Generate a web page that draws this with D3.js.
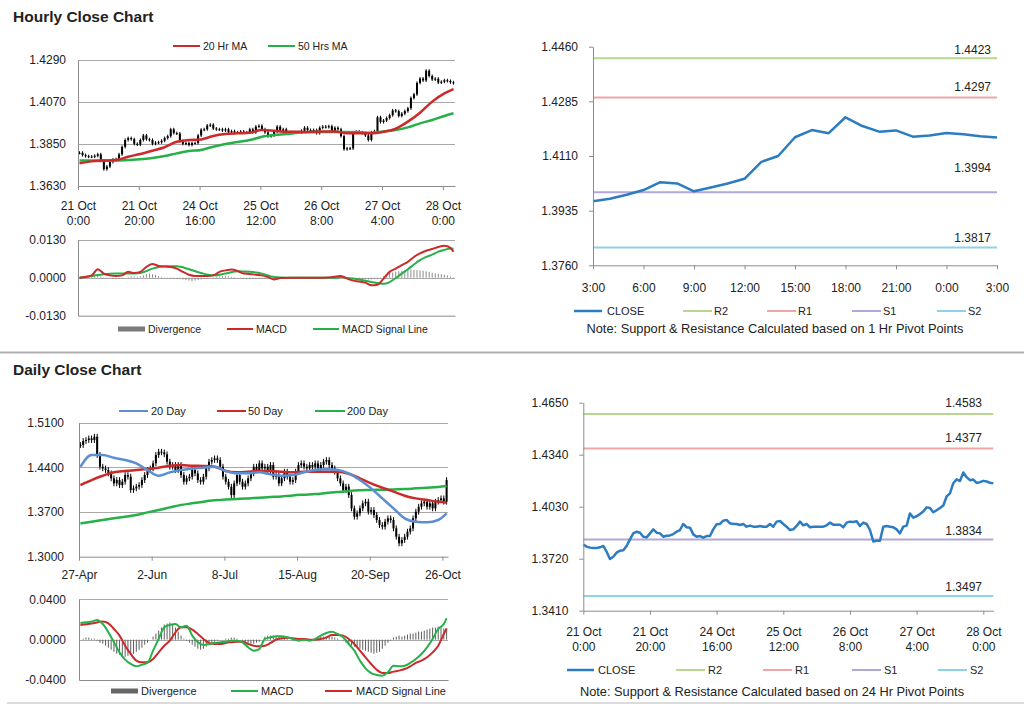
<!DOCTYPE html>
<html><head><meta charset="utf-8">
<script src="https://cdn.jsdelivr.net/npm/d3@7"></script>
<style>
body{margin:0;background:#fff;}
svg{display:block;}
</style></head><body>
<svg id="c" width="1024" height="706"></svg>
<script>
// ===================== DATA =====================
// Hourly closes, 21 Oct 0:00 .. 28 Oct 3:00 (124 bars)
const hourlyClose = [
1.3804,1.3792,1.3786,1.3784,1.3784,1.3788,1.3796,1.3762,1.3718,1.3732,
1.3756,1.3768,1.3770,1.3796,1.3835,1.3871,1.3881,1.3875,1.3851,1.3847,
1.3871,1.3895,1.3875,1.3871,1.3851,1.3857,1.3859,1.3867,1.3881,1.3891,
1.3927,1.3907,1.3905,1.3865,1.3851,1.3855,1.3845,1.3855,1.3855,1.3895,
1.3925,1.3927,1.3947,1.3951,1.3931,1.3927,1.3927,1.3921,1.3927,1.3911,
1.3917,1.3911,1.3911,1.3915,1.3911,1.3911,1.3927,1.3911,1.3941,1.3945,
1.3927,1.3911,1.3891,1.3895,1.3915,1.3941,1.3919,1.3927,1.3907,1.3911,
1.3911,1.3911,1.3911,1.3919,1.3935,1.3923,1.3923,1.3923,1.3907,1.3935,
1.3941,1.3939,1.3943,1.3915,1.3935,1.3927,1.3891,1.3823,1.3827,1.3827,
1.3911,1.3915,1.3911,1.3907,1.3895,1.3871,1.3911,1.3917,1.3990,
1.3965,1.3973,1.3986,1.4001,1.4026,1.4022,1.3997,1.4009,1.4022,1.4037,
1.4091,1.4110,1.4170,1.4193,1.4183,1.4234,1.4206,1.4188,1.4192,1.4172,
1.4176,1.4184,1.4180,1.4173,1.4169];
const hourlyTickIdx = [0,20,40,60,80,100,120];
const hourlyTickDates = ["21 Oct","21 Oct","24 Oct","25 Oct","26 Oct","27 Oct","28 Oct"];
const hourlyTickTimes = ["0:00","20:00","16:00","12:00","8:00","4:00","0:00"];
const hourlyYTicks = [1.3630,1.3850,1.4070,1.4290];

const hourlyMAIdx = [0,4,8,12,16,20,24,28,32,36,40,44,48,52,56,60,64,68,72,76,80,84,88,92,96,100,104,108,112,116,120,123];
const ma20h = [1.3749,1.3759,1.3763,1.3766,1.3783,1.3798,1.3815,1.3833,1.3862,1.3871,1.3874,1.3892,1.3902,1.3906,1.3909,1.3923,1.3920,1.3914,1.3914,1.3913,1.3916,1.3916,1.3906,1.3906,1.3906,1.3914,1.3930,1.3967,1.4014,1.4072,1.4115,1.4138];
const ma50h = [1.3763,1.3763,1.3763,1.3763,1.3766,1.3770,1.3777,1.3787,1.3801,1.3813,1.3819,1.3836,1.3850,1.3860,1.3871,1.3888,1.3897,1.3902,1.3909,1.3913,1.3913,1.3913,1.3913,1.3911,1.3909,1.3916,1.3923,1.3937,1.3958,1.3976,1.3997,1.4011];

const macdHIdx = [0,4,6,8,10,12,14,16,18,20,22,24,26,28,30,32,34,36,38,40,42,44,46,48,50,52,54,56,58,60,62,64,66,70,74,78,82,86,88,90,92,94,96,98,100,102,104,106,108,110,112,114,116,118,120,122,123];
const macdH = [0,0.0008,0.0029,0.0014,0.0008,0.0006,0.0008,0.0020,0.0016,0.0020,
0.0037,0.0047,0.0040,0.0038,0.0037,0.0031,0.0020,0.0010,0.0006,0.0006,
0.0006,0.0008,0.0020,0.0025,0.0028,0.0023,0.0014,0.0013,0.0010,0.0008,
0.0002,-0.0006,-0.0001,0,0,0,0.0001,0.0006,-0.0003,-0.0010,
-0.0013,-0.0017,-0.0026,-0.0024,-0.0003,0.0020,0.0031,0.0043,0.0054,0.0071,
0.0083,0.0092,0.0098,0.0105,0.0109,0.0102,0.0089];
const signalHIdx = [0,4,8,12,16,20,24,28,32,36,40,44,48,52,56,60,64,68,72,76,80,84,86,88,92,96,100,102,104,106,108,110,112,114,116,118,120,122,123];
const signalH = [0,0.0006,0.0012,0.0014,0.0014,0.0016,0.0031,0.0039,0.0039,0.0029,
0.0016,0.0008,0.0014,0.0022,0.0020,0.0014,0.0002,0,0,0,
0,0,0.0002,-0.0001,-0.0006,-0.0015,-0.0021,-0.0015,-0.0001,0.0014,
0.0029,0.0045,0.0060,0.0071,0.0079,0.0089,0.0095,0.0100,0.0099];
const divH = [0,0.0001,0.0002,0.0003,
0.0004,0.0005,0.0006,0.0004,0.0002,0.0001, -0.0002,-0.0004,-0.0005,-0.0004,-0.0002,0,
0.0003,0.0005,0.0004,0.0003,0.0005,0.0008, 0.0012,0.0014,0.0012,0.0010,0.0006,0.0003,
0.0001,-0.0001,-0.0002,-0.0003,-0.0003,-0.0004, -0.0006,-0.0008,-0.0010,-0.0012,-0.0010,-0.0008,
-0.0006,-0.0004,-0.0002,0,0.0002,0.0004, 0.0005,0.0006,0.0006,0.0005,0.0003,0.0002,
0,-0.0002,-0.0004,-0.0005,-0.0005,-0.0004, -0.0004,-0.0004,-0.0003,-0.0003,-0.0003,-0.0002,
-0.0001,-0.0001,0,0,0,0, 0,0,0,0,0,0, 0,0,0,0,0,0.0001,
0.0001,0.0002,0.0002,0.0001,0,-0.0001, -0.0002,-0.0003,-0.0003,-0.0004,-0.0004,-0.0005,
-0.0005,-0.0006,-0.0006,-0.0005,-0.0004,-0.0002, 0.0005,0.0010,0.0015,0.0018,0.0020,0.0022,
0.0024,0.0026,0.0028,0.0028,0.0027,0.0026, 0.0025,0.0024,0.0022,0.0020,0.0017,0.0015,
0.0013,0.0012,0.0010,0.0008,0.0004,-0.0002];
const macdHYTicks = [-0.0130,0,0.0130];

// 1-hour pivot panel (27 Oct 3:00 .. 28 Oct 3:00)
const pivot1hClose = [1.3965,1.3973,1.3986,1.4001,1.4026,1.4022,1.3997,1.4009,1.4022,1.4037,
1.4091,1.4110,1.4170,1.4193,1.4183,1.4234,1.4206,1.4188,1.4192,1.4172,
1.4176,1.4184,1.4180,1.4173,1.4169];
const pivot1hTickIdx = [0,3,6,9,12,15,18,21,24];
const pivot1hTickLabels = ["3:00","6:00","9:00","12:00","15:00","18:00","21:00","0:00","3:00"];
const pivot1hYTicks = [1.3760,1.3935,1.4110,1.4285,1.4460];
const levelNames = ["R2","R1","S1","S2"];
const levels1h = [1.4423,1.4297,1.3994,1.3817];
const levels24h = [1.4583,1.4377,1.3834,1.3497];
const pivot24hYTicks = [1.3410,1.3720,1.4030,1.4340,1.4650];

// Daily closes 27-Apr .. 27-Oct (132 bars)
const dailyClose = [
1.4750,1.4813,1.4828,1.4854,1.4828,1.4880,1.4593,1.4410,1.4384,1.4358,
1.4306,1.4228,1.4149,1.4201,1.4123,1.4175,1.4280,1.4254,1.4045,1.4071,
1.4097,1.4123,1.4201,1.4280,1.4358,1.4384,1.4463,1.4593,1.4645,1.4635,
1.4604,1.4489,1.4410,1.4437,1.4358,1.4437,1.4280,1.4175,1.4228,1.4254,
1.4358,1.4306,1.4201,1.4175,1.4254,1.4384,1.4489,1.4515,1.4541,1.4515,
1.4410,1.4254,1.4175,1.4097,1.3966,1.4149,1.4280,1.4175,1.4097,1.4149,
1.4228,1.4306,1.4410,1.4358,1.4463,1.4384,1.4410,1.4332,1.4437,1.4254,
1.4280,1.4149,1.4228,1.4332,1.4254,1.4175,1.4201,1.4332,1.4437,1.4463,
1.4410,1.4384,1.4437,1.4410,1.4463,1.4384,1.4437,1.4489,1.4515,1.4437,
1.4384,1.4332,1.4228,1.4149,1.4045,1.4097,1.3966,1.3757,1.3627,1.3679,
1.3757,1.3836,1.3862,1.3705,1.3731,1.3653,1.3575,1.3496,1.3470,1.3549,
1.3601,1.3575,1.3444,1.3313,1.3209,1.3261,1.3313,1.3392,1.3444,1.3601,
1.3705,1.3783,1.3836,1.3862,1.3783,1.3836,1.3757,1.3862,1.3888,1.3914,
1.3862,1.4201];
const dailyTickIdx = [0,26,52,78,104,130];
const dailyTickLabels = ["27-Apr","2-Jun","8-Jul","15-Aug","20-Sep","26-Oct"];
const dailyYTicks = [1.3000,1.3700,1.4400,1.5100];

const dailyMAIdx = [0,4,8,12,16,20,24,28,32,36,40,44,48,52,56,60,64,68,72,76,80,84,88,92,96,100,104,108,112,116,120,124,128,131];
const ma20d = [1.4410,1.4593,1.4593,1.4551,1.4515,1.4463,1.4358,1.4269,1.4322,1.4358,1.4384,1.4395,1.4410,1.4343,1.4306,1.4306,1.4322,1.4290,1.4269,1.4280,1.4322,1.4358,1.4369,1.4358,1.4306,1.4201,1.4071,1.3914,1.3757,1.3601,1.3549,1.3538,1.3575,1.3679];
const ma50d = [1.4123,1.4201,1.4269,1.4322,1.4343,1.4358,1.4374,1.4395,1.4426,1.4437,1.4426,1.4421,1.4410,1.4343,1.4322,1.4332,1.4343,1.4343,1.4332,1.4322,1.4332,1.4332,1.4332,1.4332,1.4301,1.4228,1.4149,1.4081,1.4019,1.3956,1.3914,1.3888,1.3862,1.3851];
const ma200d = [1.3522,1.3549,1.3575,1.3601,1.3627,1.3653,1.3695,1.3731,1.3773,1.3810,1.3836,1.3862,1.3883,1.3898,1.3904,1.3914,1.3925,1.3935,1.3945,1.3961,1.3972,1.3982,1.3998,1.4013,1.4029,1.4040,1.4045,1.4050,1.4055,1.4060,1.4071,1.4081,1.4092,1.4107];

const macdDIdx = [0,4,6,8,12,14,16,18,20,22,24,26,28,30,32,34,36,38,40,42,44,46,48,50,52,54,56,58,60,62,64,66,68,70,72,74,76,78,80,82,84,86,88,90,92,94,96,98,100,102,104,106,108,110,112,114,116,118,120,122,124,126,128,130,131];
const macdD = [0.0165,0.0179,0.0195,0.0155,-0.0026,-0.0126,-0.0198,-0.0241,-0.0264,-0.0248,
-0.0231,-0.0109,0.0007,0.0122,0.0145,0.0155,0.0122,0.0139,0.0040,-0.0026,
-0.0053,-0.0043,-0.0033,-0.0026,-0.0020,-0.0010,-0.0010,-0.0026,-0.0076,-0.0109,
-0.0093,0.0007,0.0023,0.0033,0.0033,0.0023,0.0007,-0.0010,0,-0.0010,
0.0007,0.0040,0.0066,0.0079,0.0056,0.0023,-0.0043,-0.0109,-0.0208,-0.0284,
-0.0331,-0.0350,-0.0357,-0.0324,-0.0258,-0.0264,-0.0258,-0.0231,-0.0192,-0.0142,
-0.0076,0.0007,0.0106,0.0155,0.0212];
const signalDIdx = [0,4,8,10,12,14,16,18,20,22,24,26,28,30,32,34,36,38,40,42,44,46,48,50,52,54,56,58,60,62,64,66,68,70,72,74,76,78,80,82,84,86,88,90,92,94,96,98,100,102,104,106,108,110,112,114,116,118,120,122,124,126,128,130,131];
const signalD = [0.0145,0.0159,0.0179,0.0162,0.0106,0.0040,-0.0060,-0.0142,-0.0208,-0.0225,
-0.0225,-0.0192,-0.0126,-0.0060,-0.0010,0.0073,0.0122,0.0122,0.0099,0.0056,
0.0007,-0.0033,-0.0043,-0.0043,-0.0033,-0.0026,-0.0020,-0.0020,-0.0043,-0.0060,
-0.0066,-0.0060,-0.0033,0,0.0013,0.0020,0.0013,0.0007,0.0007,0,
0,0.0007,0.0023,0.0046,0.0046,0.0040,0.0007,-0.0043,-0.0109,-0.0175,
-0.0241,-0.0298,-0.0331,-0.0331,-0.0317,-0.0307,-0.0291,-0.0264,-0.0231,-0.0208,
-0.0175,-0.0126,-0.0060,0.0056,0.0112];
const divD = [0,0.001,0.002,0.002,0.001,0.001,
-0.001,-0.003,-0.004,-0.006,-0.008,-0.010, -0.012,-0.014,-0.015,-0.016,-0.017,-0.016,
-0.015,-0.014,-0.012,-0.010,-0.008,-0.005, -0.003,0,0.003,0.006,0.009,0.012,
0.015,0.016,0.017,0.015,0.012,0.008, 0.004,0.001,-0.001,-0.003,-0.005,-0.007,
-0.009,-0.010,-0.009,-0.007,-0.005,-0.003, -0.002,-0.001,0,0,0.001,0.001,
0.002,0.002,0.001,0,-0.001,-0.002, -0.003,-0.004,-0.004,-0.003,-0.002,0,
0.003,0.004,0.004,0.004,0.003,0.003, 0.002,0.001,0.001,0,-0.001,-0.001,
-0.001,-0.001,0,0,-0.001,0, 0.001,0.002,0.003,0.003,0.003,0.003,
0.003,0.002,0.001,0,-0.001,-0.003, -0.005,-0.006,-0.007,-0.008,-0.009,-0.010,
-0.011,-0.012,-0.013,-0.014,-0.013,-0.012, -0.009,-0.006,-0.003,-0.001,0.002,0.003,
0.004,0.003,0.004,0.005,0.006,0.006, 0.007,0.008,0.008,0.009,0.010,0.011,
0.012,0.012,0.013,0.012,0.011,0.010];
const macdDYTicks = [-0.0400,0,0.0400];

// ===================== DRAWING =====================
const FONT = "'Liberation Sans', Arial, sans-serif";
const AX = "#8c8c8c", GRID = "#a8a8a8", TXT = "#222";
const RED = "#cc2a2a", GREEN = "#27b04a", BLUE_MA = "#5b8fd2", CLOSE_BLUE = "#2b7cc1";
const levelColors = ["#b9d68e","#f0a6a6","#b3a6d8","#8fd2e6"];
const fmt4 = d => (d < 0 ? "-" : "") + Math.abs(d).toFixed(4);

const svg = d3.select("#c").attr("font-family", FONT);

function gridLines(g, x0, x1, y, vals) {
  g.selectAll(null).data(vals).enter().append("line")
    .attr("x1", x0).attr("x2", x1)
    .attr("y1", d => Math.round(y(d)) + 0.5).attr("y2", d => Math.round(y(d)) + 0.5)
    .attr("stroke", GRID).attr("stroke-width", 1);
}
function styleAxis(g, fs) {
  g.attr("font-family", FONT).attr("font-size", fs);
  g.select(".domain").attr("stroke", AX);
  g.selectAll(".tick line").attr("stroke", AX);
  g.selectAll(".tick text").attr("fill", TXT);
}
function twoLine(g, top, bottom) {
  g.selectAll(".tick text").each(function(d, i) {
    const t = d3.select(this).attr("dy", null).text(null);
    t.append("tspan").attr("x", 0).attr("dy", "0.71em").text(top[i]);
    t.append("tspan").attr("x", 0).attr("dy", "1.25em").text(bottom[i]);
  });
}
function legendLine(x1, x2, y, color, w, label, tx, fs) {
  svg.append("line").attr("x1", x1).attr("x2", x2).attr("y1", y).attr("y2", y)
    .attr("stroke", color).attr("stroke-width", w);
  svg.append("text").attr("x", tx).attr("y", y).attr("dy", "0.35em")
    .attr("font-size", fs).attr("fill", TXT).text(label);
}
function legendSwatch(x1, x2, y, color, label, tx, fs) {
  svg.append("rect").attr("x", x1).attr("y", y - 2.5).attr("width", x2 - x1).attr("height", 5).attr("fill", color);
  svg.append("text").attr("x", tx).attr("y", y).attr("dy", "0.35em")
    .attr("font-size", fs).attr("fill", TXT).text(label);
}
function candles(g, closes, cx, y, pad) {
  const data = closes.map((c, i) => ({i, o: i ? closes[i - 1] : c, c}));
  g.selectAll(null).data(data).enter().append("line")
    .attr("x1", d => cx(d.i)).attr("x2", d => cx(d.i))
    .attr("y1", d => y(Math.max(d.o, d.c) + pad)).attr("y2", d => y(Math.min(d.o, d.c) - pad))
    .attr("stroke", "#000").attr("stroke-width", 1);
  g.selectAll(null).data(data).enter().append("rect")
    .attr("x", d => cx(d.i) - 1).attr("width", 2)
    .attr("y", d => y(Math.max(d.o, d.c)))
    .attr("height", d => Math.max(1, y(Math.min(d.o, d.c)) - y(Math.max(d.o, d.c))))
    .attr("fill", "#000");
}
function seriesLine(g, idx, vals, cx, y, color, w) {
  g.append("path").datum(vals).attr("fill", "none").attr("stroke", color)
    .attr("stroke-width", w).attr("stroke-linejoin", "round")
    .attr("d", d3.line().x((d, k) => cx(idx[k])).y(d => y(d)).curve(d3.curveMonotoneX));
}
function divBars(g, vals, cx, y, color) {
  g.selectAll(null).data(vals).enter().append("rect")
    .attr("x", (d, i) => cx(i) - 0.5).attr("width", 1)
    .attr("y", d => Math.min(y(d), y(0))).attr("height", d => Math.abs(y(d) - y(0)))
    .attr("fill", color);
}

// ---------- Titles & separators ----------
svg.append("text").attr("x", 13).attr("y", 22).attr("font-weight", "bold").attr("font-size", 15.5)
  .attr("fill", "#222").text("Hourly Close Chart");
svg.append("text").attr("x", 13).attr("y", 375).attr("font-weight", "bold").attr("font-size", 15.5)
  .attr("fill", "#222").text("Daily Close Chart");
svg.append("line").attr("x1", 0).attr("x2", 1024).attr("y1", 352.5).attr("y2", 352.5)
  .attr("stroke", "#b0b0b0").attr("stroke-width", 2);
svg.append("line").attr("x1", 7).attr("x2", 1024).attr("y1", 703).attr("y2", 703)
  .attr("stroke", "#cfcfcf").attr("stroke-width", 1.5);

// ---------- Panel A: hourly candles ----------
const gA = svg.append("g");
const xH = d3.scaleBand().domain(d3.range(hourlyClose.length)).range([78, 455]);
const cxH = i => xH(i) + xH.bandwidth() / 2;
const tickH = d3.scaleLinear().domain([0, hourlyClose.length]).range([78, 455]);
const yH = d3.scaleLinear().domain([1.3630, 1.4290]).range([186, 60]);
gridLines(gA, 78, 455, yH, hourlyYTicks.slice(1));
candles(gA, hourlyClose, cxH, yH, 0.0008);
seriesLine(gA, hourlyMAIdx, ma50h, cxH, yH, GREEN, 2.5);
seriesLine(gA, hourlyMAIdx, ma20h, cxH, yH, RED, 2.5);
const axAy = gA.append("g").attr("transform", "translate(78,0)")
  .call(d3.axisLeft(yH).tickValues(hourlyYTicks).tickFormat(fmt4).tickSize(0).tickPadding(12));
styleAxis(axAy, 12);
const axAx = gA.append("g").attr("transform", "translate(0,186)")
  .call(d3.axisBottom(tickH).tickValues(hourlyTickIdx).tickSize(4).tickSizeOuter(0).tickPadding(11));
styleAxis(axAx, 12);
twoLine(axAx, hourlyTickDates, hourlyTickTimes);
legendLine(173, 200, 46, RED, 2, "20 Hr MA", 203, 10.5);
legendLine(268, 295, 46, GREEN, 2, "50 Hrs MA", 298, 10.5);

// ---------- Panel B: hourly MACD ----------
const gB = svg.append("g");
const yMH = d3.scaleLinear().domain([-0.013, 0.013]).range([315.7, 239.7]);
gridLines(gB, 78, 455, yMH, [0, 0.013]);
divBars(gB, divH, cxH, yMH, "#8a8a8a");
seriesLine(gB, signalHIdx, signalH, cxH, yMH, GREEN, 2);
seriesLine(gB, macdHIdx, macdH, cxH, yMH, RED, 2);
const axBy = gB.append("g").attr("transform", "translate(78,0)")
  .call(d3.axisLeft(yMH).tickValues(macdHYTicks).tickFormat(fmt4).tickSize(0).tickPadding(12));
styleAxis(axBy, 12);
const axBx = gB.append("g").attr("transform", "translate(0,315.7)")
  .call(d3.axisBottom(tickH).tickValues([]).tickSizeOuter(0));
styleAxis(axBx, 12);
legendSwatch(118, 145, 329, "#7a7a7a", "Divergence", 148, 10.5);
legendLine(227, 253, 329, RED, 2, "MACD", 256, 10.5);
legendLine(313, 339, 329, GREEN, 2, "MACD Signal Line", 342, 10.5);

// ---------- Panel C: 1 hr pivot ----------
const gC = svg.append("g");
const xP = d3.scaleLinear().domain([0, pivot1hClose.length - 1]).range([593, 997]);
const yP = d3.scaleLinear().domain([1.3760, 1.4460]).range([265.3, 46.7]);
const lvlDy1 = [4.5, 6.5, 20.5, 5];
levels1h.forEach((v, k) => {
  gC.append("line").attr("x1", 593).attr("x2", 997).attr("y1", yP(v)).attr("y2", yP(v))
    .attr("stroke", levelColors[k]).attr("stroke-width", 2);
  gC.append("text").attr("x", 991).attr("y", yP(v) - lvlDy1[k]).attr("text-anchor", "end")
    .attr("font-size", 12).attr("fill", TXT).text(v.toFixed(4));
});
gC.append("path").datum(pivot1hClose).attr("fill", "none").attr("stroke", CLOSE_BLUE)
  .attr("stroke-width", 2.5).attr("stroke-linejoin", "round")
  .attr("d", d3.line().x((d, i) => xP(i)).y(d => yP(d)));
const axCy = gC.append("g").attr("transform", "translate(593,0)")
  .call(d3.axisLeft(yP).tickValues(pivot1hYTicks).tickFormat(fmt4).tickSize(4).tickSizeOuter(0).tickPadding(11));
styleAxis(axCy, 12);
const axCx = gC.append("g").attr("transform", "translate(0,265.3)")
  .call(d3.axisBottom(xP).tickValues(pivot1hTickIdx).tickFormat((d, i) => pivot1hTickLabels[i])
    .tickSize(4).tickSizeOuter(0).tickPadding(14));
styleAxis(axCx, 12);
legendLine(574, 602, 311, CLOSE_BLUE, 2.5, "CLOSE", 607, 11);
const legX1 = [683, 767, 852, 937];
levelNames.forEach((n, k) => legendLine(legX1[k], legX1[k] + 29, 311, levelColors[k], 2, n, legX1[k] + 31, 11));
svg.append("text").attr("x", 775).attr("y", 333).attr("text-anchor", "middle").attr("font-size", 12.8)
  .attr("fill", TXT).text("Note: Support & Resistance Calculated based on 1 Hr Pivot Points");

// ---------- Panel D: daily candles ----------
const gD = svg.append("g");
const xD = d3.scaleBand().domain(d3.range(dailyClose.length)).range([79, 448]);
const cxD = i => xD(i) + xD.bandwidth() / 2;
const tickD = d3.scaleLinear().domain([0, dailyClose.length]).range([79, 448]);
const yD = d3.scaleLinear().domain([1.3000, 1.5100]).range([556.7, 422.7]);
gridLines(gD, 79, 448, yD, dailyYTicks.slice(1));
candles(gD, dailyClose, cxD, yD, 0.0045);
seriesLine(gD, dailyMAIdx, ma200d, cxD, yD, GREEN, 2.5);
seriesLine(gD, dailyMAIdx, ma50d, cxD, yD, RED, 2.5);
seriesLine(gD, dailyMAIdx, ma20d, cxD, yD, BLUE_MA, 2.5);
const axDy = gD.append("g").attr("transform", "translate(79,0)")
  .call(d3.axisLeft(yD).tickValues(dailyYTicks).tickFormat(fmt4).tickSize(0).tickPadding(15));
styleAxis(axDy, 12);
const axDx = gD.append("g").attr("transform", "translate(0,556.7)")
  .call(d3.axisBottom(tickD).tickValues(dailyTickIdx).tickFormat((d, i) => dailyTickLabels[i])
    .tickSize(4).tickSizeOuter(0).tickPadding(10));
styleAxis(axDx, 12);
legendLine(119, 148, 411, BLUE_MA, 2, "20 Day", 151, 11);
legendLine(217, 246, 411, RED, 2, "50 Day", 248, 11);
legendLine(315, 345, 411, GREEN, 2, "200 Day", 347, 11);

// ---------- Panel E: daily MACD ----------
const gE = svg.append("g");
const yMD = d3.scaleLinear().domain([-0.04, 0.04]).range([680, 599.3]);
gridLines(gE, 79, 448, yMD, [0, 0.04]);
divBars(gE, divD, cxD, yMD, "#5e5e5e");
seriesLine(gE, signalDIdx, signalD, cxD, yMD, RED, 2);
seriesLine(gE, macdDIdx, macdD, cxD, yMD, GREEN, 2);
const axEy = gE.append("g").attr("transform", "translate(79,0)")
  .call(d3.axisLeft(yMD).tickValues(macdDYTicks).tickFormat(fmt4).tickSize(0).tickPadding(13));
styleAxis(axEy, 12);
const axEx = gE.append("g").attr("transform", "translate(0,680)")
  .call(d3.axisBottom(tickD).tickValues([]).tickSizeOuter(0));
styleAxis(axEx, 12);
legendSwatch(111, 138, 691, "#666", "Divergence", 141, 11);
legendLine(231, 258, 691, GREEN, 2, "MACD", 261, 11);
legendLine(325, 352, 691, RED, 2, "MACD Signal Line", 356, 11);

// ---------- Panel F: 24 hr pivot ----------
const gF = svg.append("g");
const xQ = d3.scaleLinear().domain([0, hourlyClose.length - 1]).range([583.3, 993.3]);
const yQ = d3.scaleLinear().domain([1.3410, 1.4650]).range([610.7, 402.7]);
const lvlDy24 = [6.5, 6.5, 5, 5.5];
levels24h.forEach((v, k) => {
  gF.append("line").attr("x1", 583.3).attr("x2", 993.3).attr("y1", yQ(v)).attr("y2", yQ(v))
    .attr("stroke", levelColors[k]).attr("stroke-width", 2);
  gF.append("text").attr("x", 982).attr("y", yQ(v) - lvlDy24[k]).attr("text-anchor", "end")
    .attr("font-size", 12).attr("fill", TXT).text(v.toFixed(4));
});
gF.append("path").datum(hourlyClose).attr("fill", "none").attr("stroke", CLOSE_BLUE)
  .attr("stroke-width", 2.5).attr("stroke-linejoin", "round")
  .attr("d", d3.line().x((d, i) => xQ(i)).y(d => yQ(d)));
const axFy = gF.append("g").attr("transform", "translate(583.3,0)")
  .call(d3.axisLeft(yQ).tickValues(pivot24hYTicks).tickFormat(fmt4).tickSize(4).tickSizeOuter(0).tickPadding(11));
styleAxis(axFy, 12);
const axFx = gF.append("g").attr("transform", "translate(0,610.7)")
  .call(d3.axisBottom(xQ).tickValues(hourlyTickIdx).tickSize(4).tickSizeOuter(0).tickPadding(13));
styleAxis(axFx, 12);
twoLine(axFx, hourlyTickDates, hourlyTickTimes);
legendLine(567, 594, 670, CLOSE_BLUE, 2.5, "CLOSE", 598, 11);
const legX24 = [676, 763, 852, 938];
levelNames.forEach((n, k) => legendLine(legX24[k], legX24[k] + 29, 670, levelColors[k], 2, n, legX24[k] + 32, 11));
svg.append("text").attr("x", 772).attr("y", 696).attr("text-anchor", "middle").attr("font-size", 12.8)
  .attr("fill", TXT).text("Note: Support & Resistance Calculated based on 24 Hr Pivot Points");
</script></body></html>
